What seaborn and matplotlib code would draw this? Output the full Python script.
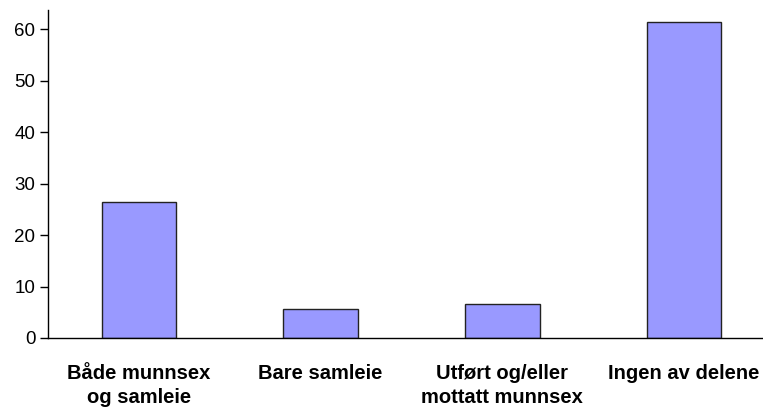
import numpy as np
import pandas as pd
import matplotlib
matplotlib.use("Agg")
import matplotlib.pyplot as plt
import seaborn as sns

# data
categories = ["Både munnsex\nog samleie", "Bare samleie",
              "Utført og/eller\nmottatt munnsex", "Ingen av delene"]
values = [26.4, 5.6, 6.6, 61.4]
yticks = [0, 10, 20, 30, 40, 50, 60]

sns.set_style("white")
plt.rcParams['font.family'] = ['Liberation Sans', 'DejaVu Sans']
plt.rcParams['text.color'] = 'black'
plt.rcParams['xtick.color'] = 'black'
plt.rcParams['ytick.color'] = 'black'

df = pd.DataFrame({"kategori": categories, "prosent": values})

fig = plt.figure(figsize=(7.63, 4.07), dpi=100)
ax = fig.add_axes([48 / 763, 69 / 407, 727 / 763, 328 / 407])

sns.barplot(data=df, x="kategori", y="prosent", color="#9999FF",
            edgecolor="#222222", linewidth=1.0, width=0.41, saturation=1, ax=ax)

ax.set_xlim(-0.5, len(categories) - 0.5)
ax.set_ylim(0, 63.7)
ax.set_yticks(yticks)
ax.set_xlabel("")
ax.set_ylabel("")

# ticks between categories, labels centred
ax.set_xticks(np.arange(-0.5, len(categories)), minor=True)
ax.tick_params(axis="x", which="major", length=0, pad=19)
ax.tick_params(axis="x", which="minor", length=6, width=1, direction="out", color="black")
ax.tick_params(axis="y", length=6, width=1, direction="out", color="black", pad=3,
               left=True, labelsize=13.5, labelcolor="black")
for lbl in ax.get_xticklabels():
    lbl.set_fontweight("bold")
    lbl.set_fontsize(14.5)
    lbl.set_color("black")
    lbl.set_linespacing(1.3)

sns.despine(ax=ax, top=True, right=True)
for s in ["left", "bottom"]:
    ax.spines[s].set_color("black")
    ax.spines[s].set_linewidth(1.0)

fig.savefig("out.png", dpi=100)
